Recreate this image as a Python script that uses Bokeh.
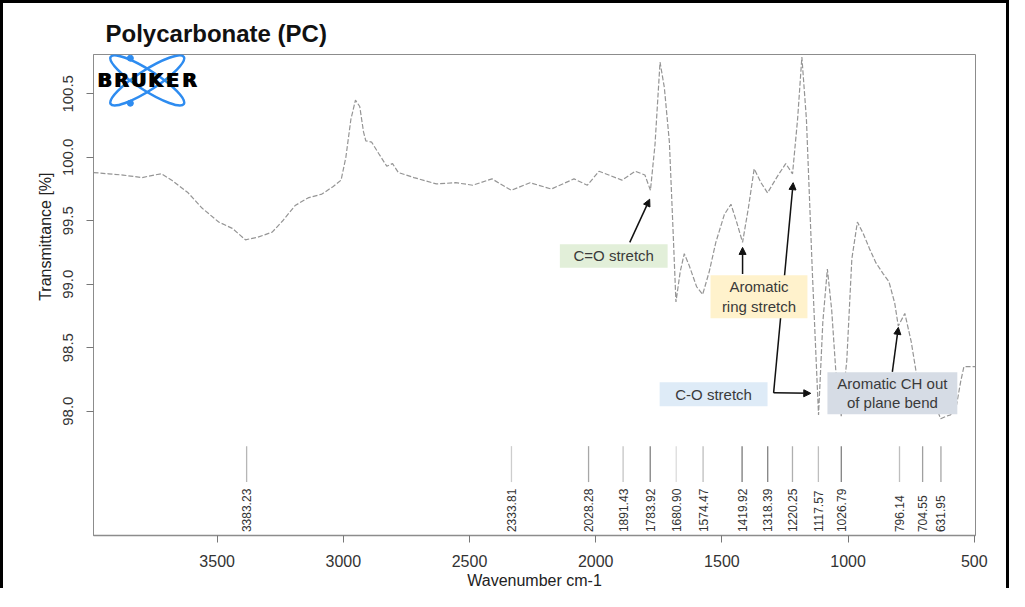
import numpy as np
from bokeh.plotting import figure
from bokeh.models import (Range1d, FixedTicker, Title, Arrow, NormalHead,
                          CustomJSTickFormatter)
from bokeh.core.properties import value
from bokeh.embed import file_html
from bokeh.resources import INLINE

# ---------------- data ----------------
wavenumber = [3990, 3930, 3873, 3798, 3750, 3721, 3680, 3615, 3560, 3494, 3440,
              3388, 3340, 3282, 3240, 3191, 3140, 3085, 3040, 3009, 2990, 2970,
              2952, 2935, 2920, 2911, 2888, 2860, 2828, 2805, 2782, 2720, 2631,
              2555, 2487, 2411, 2335, 2260, 2176, 2086, 2033, 1987, 1896, 1843,
              1805, 1783, 1765, 1745, 1728, 1708, 1695, 1682, 1665, 1649, 1630,
              1600, 1576, 1550, 1524, 1490, 1464, 1440, 1418, 1395, 1372, 1345,
              1319, 1280, 1247, 1220, 1200, 1183, 1165, 1141, 1117, 1100, 1082,
              1065, 1049, 1027, 1005, 985, 963, 940, 915, 890, 860, 838, 815,
              801, 775, 750, 732, 704, 680, 655, 633, 610, 594, 570, 554, 541, 495]
transmittance = [99.88, 99.87, 99.86, 99.84, 99.86, 99.87, 99.82, 99.72, 99.60, 99.49, 99.44,
                 99.35, 99.37, 99.41, 99.50, 99.62, 99.68, 99.71, 99.77, 99.82, 100.00, 100.30,
                 100.45, 100.40, 100.20, 100.13, 100.12, 100.03, 99.93, 99.95, 99.88, 99.84, 99.79,
                 99.80, 99.78, 99.83, 99.74, 99.80, 99.75, 99.83, 99.78, 99.89, 99.82, 99.89,
                 99.86, 99.74, 100.10, 100.75, 100.55, 100.12, 99.50, 98.86, 99.10, 99.24, 99.15,
                 98.98, 98.92, 99.10, 99.33, 99.55, 99.63, 99.48, 99.33, 99.60, 99.91, 99.80,
                 99.72, 99.85, 99.95, 99.87, 100.30, 100.79, 100.30, 99.07, 97.97, 98.70, 99.12,
                 98.80, 98.33, 97.96, 98.40, 99.20, 99.49, 99.40, 99.28, 99.17, 99.08, 99.02, 98.85,
                 98.67, 98.77, 98.55, 98.33, 98.00, 98.10, 98.05, 97.94, 97.96, 97.97, 98.05, 98.23, 98.35, 98.35]

peak_positions = [3383.23, 2333.81, 2028.28, 1891.43, 1783.92, 1680.90, 1574.47,
                  1419.92, 1318.39, 1220.25, 1117.57, 1026.79, 796.14, 704.55, 631.95]
peak_strength = [0.35, 0.2, 0.45, 0.25, 0.7, 0.1, 0.3, 0.75, 0.7, 0.4, 0.3, 0.7, 0.3, 0.5, 0.45]

x_ticks = [3500, 3000, 2500, 2000, 1500, 1000, 500]
y_ticks = [98.0, 98.5, 99.0, 99.5, 100.0, 100.5]

box_labels = ["C=O stretch", "Aromatic\nring stretch", "C-O stretch", "Aromatic CH out\nof plane bend"]
box_left = [2142, 1545, 1746.6, 1081.7]
box_right = [1715, 1161, 1319, 567]
box_top = [99.315, 99.071, 98.228, 98.307]
box_bottom = [99.13, 98.732, 98.039, 97.976]
box_colors = ["#e2efd9", "#fff2cc", "#deebf7", "#d6dce5"]

arrow_x0 = [1865, 1418, 1295, 1295, 824.5]
arrow_y0 = [99.33, 99.08, 98.144, 98.144, 98.31]
arrow_x1 = [1786, 1418, 1217.5, 1147.8, 800.8]
arrow_y1 = [99.67, 99.29, 99.80, 98.14, 98.66]

logo_center = (3777, 100.606)
logo_letters = list("BRUKER")

FONT = "Liberation Sans"

p = figure(width=1009, height=588,
           x_range=Range1d(3990, 495), y_range=Range1d(97.02, 100.81),
           output_backend="svg", toolbar_location=None,
           min_border_left=90, min_border_right=37,
           min_border_top=51, min_border_bottom=54)
p.styles = {"border-left": "3px solid black", "border-top": "3px solid black",
            "border-right": "3px solid black"}
p.background_fill_color = "white"
p.border_fill_color = "white"
p.outline_line_color = "#8c8c8c"
p.outline_line_width = 1
p.xgrid.visible = False
p.ygrid.visible = False

# title
p.title.text = "Polycarbonate (PC)"
p.title.text_font = FONT
p.title.text_font_size = "24px"
p.title.text_font_style = "bold"
p.title.text_color = "#111111"
p.title.align = "left"
p.title.offset = 12
p.title.standoff = 16

# axes
xa = p.xaxis[0]
xa.ticker = FixedTicker(ticks=x_ticks)
xa.minor_tick_line_color = None
xa.major_tick_out = 7
xa.major_tick_in = 0
xa.major_tick_line_color = "#777777"
xa.axis_line_color = "#8c8c8c"
xa.axis_line_width = 1.5
xa.major_label_text_font = FONT
xa.major_label_text_font_size = "16px"
xa.major_label_text_color = "#333333"
xa.major_label_standoff = 12
xa.axis_label = "Wavenumber cm-1"
xa.axis_label_text_font = FONT
xa.axis_label_text_font_size = "16px"
xa.axis_label_text_font_style = "normal"
xa.axis_label_text_color = "#222222"
xa.axis_label_standoff = 2

ya = p.yaxis[0]
ya.ticker = FixedTicker(ticks=y_ticks)
ya.formatter = CustomJSTickFormatter(code="return tick.toFixed(1);")
ya.minor_tick_line_color = None
ya.major_tick_out = 7
ya.major_tick_in = 0
ya.major_tick_line_color = "#777777"
ya.axis_line_color = "#8c8c8c"
ya.major_label_orientation = "vertical"
ya.major_label_text_font = FONT
ya.major_label_text_font_size = "15px"
ya.major_label_text_color = "#333333"
ya.major_label_standoff = 13

p.add_layout(Title(text="Transmittance [%]", align="right", offset=118,
                   text_font=FONT, text_font_size="16px", text_font_style="normal",
                   text_color="#222222", standoff=13), "left")

# spectrum
p.line(wavenumber, transmittance, line_color="#959595", line_width=1.2, line_dash="5 2")

# peak markers
peak_colors = ["#%02x%02x%02x" % ((int(235 - 150 * s),) * 3) for s in peak_strength]
p.segment(x0=peak_positions, y0=[97.441] * len(peak_positions),
          x1=peak_positions, y1=[97.724] * len(peak_positions),
          line_color=peak_colors, line_width=1.3)
p.text(x=peak_positions, y=[97.047] * len(peak_positions),
       text=["%.2f" % v for v in peak_positions], angle=np.pi / 2,
       text_font=value(FONT), text_font_size="12px", text_color="#333333",
       text_align="left", text_baseline="middle")

# arrows (under boxes)
for xs, ys, xe, ye in zip(arrow_x0, arrow_y0, arrow_x1, arrow_y1):
    arr = Arrow(x_start=xs, y_start=ys, x_end=xe, y_end=ye,
                line_color="#111111", line_width=1.5,
                end=NormalHead(size=7, fill_color="#111111", line_color="#111111"),
                level="underlay")
    p.add_layout(arr)

# annotation boxes
p.quad(left=box_left, right=box_right, top=box_top, bottom=box_bottom,
       fill_color=box_colors, line_color=None)
box_cx = [(a + b) / 2 for a, b in zip(box_left, box_right)]
box_cy = [(a + b) / 2 for a, b in zip(box_top, box_bottom)]
p.text(x=box_cx, y=box_cy, text=box_labels, text_font=value(FONT),
       text_font_size="15px", text_color="#3a3a3a", text_align="center",
       text_baseline="middle", text_line_height=1.15)

# Bruker logo
lx, ly = logo_center
p.ellipse(x=[lx, lx], y=[ly, ly], width=87, height=20,
          width_units="screen", height_units="screen",
          angle=[0.573, -0.573], fill_color=None, line_color="#2e8cf0", line_width=2.5)
p.scatter(x=[lx + 67, lx + 67], y=[ly + 0.175, ly - 0.18], size=6,
          fill_color="#2e8cf0", line_color="#2e8cf0")
letter_x = [lx - (k - 2.5) * 67.3 for k in range(len(logo_letters))]
for shift in (2.5, -2.5):
    p.text(x=[v + shift for v in letter_x], y=[ly] * len(logo_letters), text=logo_letters,
           text_font=value("DejaVu Sans"), text_font_style="bold", text_font_size="19px",
           text_color="black", text_align="center", text_baseline="middle")

open("out.html", "w").write(file_html(p, INLINE))
